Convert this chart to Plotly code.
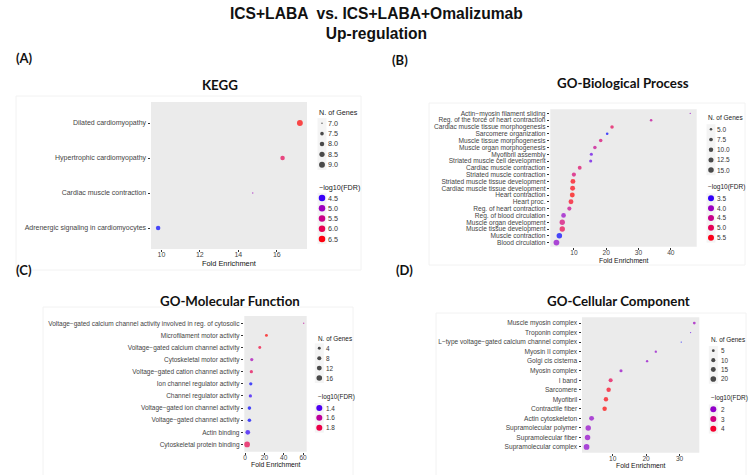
import math
import plotly.graph_objects as go

# ---------------- data ----------------
kegg_terms = ["Dilated cardiomyopathy", "Hypertrophic cardiomyopathy",
              "Cardiac muscle contraction", "Adrenergic signaling in cardiomyocytes"]
kegg_fold = [17.2, 16.3, 14.75, 9.83]
kegg_genes = [9, 8, 7, 8]
kegg_fdr = [6.55, 6.0, 5.0, 4.44]
kegg_size_breaks = [7.0, 7.5, 8.0, 8.5, 9.0]
kegg_color_breaks = [4.5, 5.0, 5.5, 6.0, 6.5]

bp_terms = ["Actin\u2212myosin filament sliding", "Reg. of the force of heart contraction",
            "Cardiac muscle tissue morphogenesis", "Sarcomere organization",
            "Muscle tissue morphogenesis", "Muscle organ morphogenesis", "Myofibril assembly",
            "Striated muscle cell development", "Cardiac muscle contraction",
            "Striated muscle contraction", "Striated muscle tissue development",
            "Cardiac muscle tissue development", "Heart contraction", "Heart proc.",
            "Reg. of heart contraction", "Reg. of blood circulation", "Muscle organ development",
            "Muscle tissue development", "Muscle contraction", "Blood circulation"]
bp_fold = [46.0, 33.9, 21.8, 20.3, 18.3, 16.5, 15.4, 15.2, 11.8, 10.0,
           9.7, 9.6, 9.5, 9.1, 8.6, 6.8, 6.4, 6.4, 5.5, 4.6]
bp_genes = [4, 5, 7, 5, 7, 7, 6, 6, 8, 9, 12, 12, 12, 12, 9, 11, 14, 14, 15, 16]
bp_fdr = [3.95, 4.4, 5.0, 3.45, 4.76, 4.5, 3.65, 3.65, 4.87, 4.75,
          5.55, 5.55, 5.6, 5.5, 4.5, 3.95, 4.7, 5.1, 3.45, 3.9]
bp_size_breaks = [5.0, 7.5, 10.0, 12.5, 15.0]
bp_color_breaks = [3.5, 4.0, 4.5, 5.0, 5.5]

mf_terms = ["Voltage\u2212gated calcium channel activity involved in reg. of cytosolic",
            "Microfilament motor activity", "Voltage\u2212gated calcium channel activity",
            "Cytoskeletal motor activity", "Voltage\u2212gated cation channel activity",
            "Ion channel regulator activity", "Channel regulator activity",
            "Voltage\u2212gated ion channel activity", "Voltage\u2212gated channel activity",
            "Actin binding", "Cytoskeletal protein binding"]
mf_fold = [60.7, 22.1, 15.2, 6.9, 6.5, 5.9, 5.5, 4.5, 4.5, 2.8, 2.1]
mf_genes = [2, 4, 4, 5, 5, 5, 5, 6, 6, 11, 17]
mf_fdr = [1.6, 1.92, 1.84, 1.535, 1.78, 1.37, 1.38, 1.37, 1.37, 1.38, 1.79]
mf_size_breaks = [4, 8, 12, 16]
mf_color_breaks = [1.4, 1.6, 1.8]

cc_terms = ["Muscle myosin complex", "Troponin complex",
            "L\u2212type voltage\u2212gated calcium channel complex", "Myosin II complex",
            "Golgi cis cisterna", "Myosin complex", "I band", "Sarcomere", "Myofibril",
            "Contractile fiber", "Actin cytoskeleton", "Supramolecular polymer",
            "Supramolecular fiber", "Supramolecular complex"]
cc_fold = [34.4, 33.3, 30.5, 22.9, 20.3, 12.5, 9.4, 8.8, 8.0, 7.6, 3.7, 2.7, 2.5, 2.2]
cc_genes = [5, 3, 3, 4, 4, 6, 10, 12, 12, 12, 15, 19, 19, 21]
cc_fdr = [2.15, 1.6, 1.35, 2.0, 2.0, 2.05, 3.6, 4.2, 4.3, 4.35, 2.0, 2.0, 2.0, 1.95]
cc_size_breaks = [5, 10, 15, 20]
cc_color_breaks = [2, 3, 4]

# ---------------- helpers ----------------
W, H = 753, 475


def xd(a, b):
    return [a / W, b / W]


def yd(top, bot):
    return [1 - bot / H, 1 - top / H]


def _lin(c):
    c = c / 255.0
    return c / 12.92 if c <= 0.04045 else ((c + 0.055) / 1.055) ** 2.4


def _gam(c):
    c = max(0.0, c)
    c = 12.92 * c if c <= 0.0031308 else 1.055 * c ** (1 / 2.4) - 0.055
    return max(0, min(255, round(c * 255)))


def rgb2lab(rgb):
    r, g, b = [_lin(v) for v in rgb]
    X = (0.4124 * r + 0.3576 * g + 0.1805 * b) / 0.95047
    Y = (0.2126 * r + 0.7152 * g + 0.0722 * b)
    Z = (0.0193 * r + 0.1192 * g + 0.9505 * b) / 1.08883
    f = lambda t: t ** (1 / 3) if t > 0.008856 else 7.787 * t + 16 / 116
    fx, fy, fz = f(X), f(Y), f(Z)
    return (116 * fy - 16, 500 * (fx - fy), 200 * (fy - fz))


def lab2rgb(lab):
    L, a, b = lab
    fy = (L + 16) / 116
    fx = fy + a / 500
    fz = fy - b / 200
    finv = lambda t: t ** 3 if t ** 3 > 0.008856 else (t - 16 / 116) / 7.787
    X, Y, Z = finv(fx) * 0.95047, finv(fy), finv(fz) * 1.08883
    r = 3.2406 * X - 1.5372 * Y - 0.4986 * Z
    g = -0.9689 * X + 1.8758 * Y + 0.0415 * Z
    bb = 0.0557 * X - 0.2040 * Y + 1.0570 * Z
    return "rgb(%d,%d,%d)" % (_gam(r), _gam(g), _gam(bb))


LOW = rgb2lab((0, 0, 255))
HIGH = rgb2lab((255, 0, 0))


def colmap(v, lo, hi):
    t = (v - lo) / (hi - lo)
    t = max(0.0, min(1.0, t))
    return lab2rgb(tuple(LOW[i] + (HIGH[i] - LOW[i]) * t for i in range(3)))


def sizemap(v, lo, hi, k):
    t = max(0.0, min(1.0, (v - lo) / (hi - lo)))
    return k * (1 + 5 * math.sqrt(t) + 0.5)


GREY = "#444444"
FONT = "Liberation Sans, Arial, sans-serif"
TFONT = "Lato, Open Sans, sans-serif"

panels = [
    dict(terms=kegg_terms, fold=kegg_fold, genes=kegg_genes, fdr=kegg_fdr,
         sb=kegg_size_breaks, cb=kegg_color_breaks,
         px=(151, 307), py=(102, 249), xr=[9.46, 17.57], dtick=2, fs=7.0, lfs=7.2, afs=7.4,
         k=0.9, ck=6.5,
         leg=dict(tx=317, ty=112, r0=123.3, rh=10.35, dx=322, lx=326, cty=187.3, c0=198, ch=10.25),
         title="KEGG", tpos=(220, 85), lab="(A)", lpos=(14, 58),
         xt=263, box=(16, 96, 361, 270)),
    dict(terms=bp_terms, fold=bp_fold, genes=bp_genes, fdr=bp_fdr,
         sb=bp_size_breaks, cb=bp_color_breaks,
         px=(550.3, 696.7), py=(109.3, 246.7), xr=[2.7, 48], dtick=10, fs=6.6, lfs=6.5, afs=6.8,
         k=0.88, ck=6,
         leg=dict(tx=706, ty=117.3, r0=129.3, rh=10.2, dx=711, lx=715.3, cty=187.3, c0=198.3, ch=9.85),
         title="GO-Biological Process", tpos=(623, 83), lab="(B)", lpos=(390, 60),
         xt=260.5, box=(429, 103, 745, 265)),
    dict(terms=mf_terms, fold=mf_fold, genes=mf_genes, fdr=mf_fdr,
         sb=mf_size_breaks, cb=mf_color_breaks,
         px=(244.3, 306.7), py=(316, 451.7), xr=[-0.8, 63.8], dtick=20, fs=6.5, lfs=6.4, afs=6.8,
         k=0.88, ck=6,
         leg=dict(tx=316, ty=338.3, r0=348.3, rh=9.9, dx=319.3, lx=324, cty=397.3, c0=408, ch=9.85),
         title="GO-Molecular Function", tpos=(230, 301), lab="(C)", lpos=(14, 270),
         xt=464.3, box=(43, 307, 353, 476)),
    dict(terms=cc_terms, fold=cc_fold, genes=cc_genes, fdr=cc_fdr,
         sb=cc_size_breaks, cb=cc_color_breaks,
         px=(582, 699.3), py=(317.3, 452.7), xr=[0.84, 35.9], dtick=10, fs=6.6, lfs=6.4, afs=6.8,
         k=0.88, ck=6,
         leg=dict(tx=708.7, ty=339.3, r0=350.7, rh=9.43, dx=713.3, lx=719.3, cty=398.3, c0=409.3, ch=9.7),
         title="GO-Cellular Component", tpos=(618, 301), lab="(D)", lpos=(394, 270),
         xt=465.8, box=(436, 313, 746, 476)),
]

fig = go.Figure()
shapes = []
annotations = []
layout = {}

for i, p in enumerate(panels, start=1):
    sfx = "" if i == 1 else str(i)
    xa, ya = "x" + sfx, "y" + sfx
    n = len(p["terms"])
    lo_c, hi_c = min(p["fdr"]), max(p["fdr"])
    lo_s, hi_s = min(p["genes"]), max(p["genes"])
    bx = p["box"]
    shapes.append(dict(type="rect", xref="paper", yref="paper",
                       x0=bx[0] / W, x1=bx[2] / W, y0=1 - bx[3] / H, y1=1 - bx[1] / H,
                       line=dict(color="#f2f2f2", width=1), fillcolor="rgba(0,0,0,0)", layer="below"))
    shapes.append(dict(type="rect", xref="%s domain" % xa, yref="%s domain" % ya,
                       x0=0, x1=1, y0=0, y1=1, fillcolor="#EBEBEB", line=dict(width=0), layer="below"))
    fig.add_trace(go.Scatter(
        x=p["fold"], y=p["terms"], mode="markers", xaxis=xa, yaxis=ya, showlegend=False,
        marker=dict(size=[sizemap(g, lo_s, hi_s, p["k"]) for g in p["genes"]],
                    color=[colmap(v, lo_c, hi_c) for v in p["fdr"]], line=dict(width=0)),
        cliponaxis=False))
    layout["xaxis" + sfx] = dict(
        domain=xd(*p["px"]), anchor=ya, range=p["xr"], dtick=p["dtick"], showgrid=False,
        zeroline=False, ticks="outside", ticklen=2, tickwidth=0.8, tickcolor="#333",
        ticklabelstandoff=-3,
        tickfont=dict(family=FONT, size=p["fs"], color=GREY), showline=False, fixedrange=True)
    layout["yaxis" + sfx] = dict(
        domain=yd(*p["py"]), anchor=xa, type="category", categoryorder="array",
        categoryarray=list(reversed(p["terms"])), range=[-0.6, n - 0.4], showgrid=False,
        tickmode="linear", tick0=0, dtick=1,
        zeroline=False, ticks="outside", ticklen=2.5, tickwidth=0.8, tickcolor="#333",
        tickfont=dict(family=FONT, size=p["fs"], color=GREY), fixedrange=True)
    cx = (p["px"][0] + p["px"][1]) / 2
    annotations.append(dict(text="Fold Enrichment", x=cx / W, y=1 - p["xt"] / H, xref="paper",
                            yref="paper", showarrow=False, xanchor="center", yanchor="middle",
                            font=dict(family=FONT, size=p["afs"], color="#111")))
    annotations.append(dict(text="<b>%s</b>" % p["title"], x=p["tpos"][0] / W, y=1 - p["tpos"][1] / H,
                            xref="paper", yref="paper", showarrow=False, xanchor="center",
                            yanchor="middle", font=dict(family=TFONT, size=13.3, color="#111")))
    annotations.append(dict(text="<b>%s</b>" % p["lab"], x=p["lpos"][0] / W, y=1 - p["lpos"][1] / H,
                            xref="paper", yref="paper", showarrow=False, xanchor="left",
                            yanchor="middle", font=dict(family=TFONT, size=13, color="#111")))
    L = p["leg"]
    annotations.append(dict(text="N. of Genes", x=L["tx"] / W, y=1 - L["ty"] / H, xref="paper",
                            yref="paper", showarrow=False, xanchor="left", yanchor="middle",
                            font=dict(family=FONT, size=p["lfs"], color="#1a1a1a")))
    annotations.append(dict(text="\u2212log10(FDR)", x=L["tx"] / W, y=1 - L["cty"] / H, xref="paper",
                            yref="paper", showarrow=False, xanchor="left", yanchor="middle",
                            font=dict(family=FONT, size=p["lfs"], color="#1a1a1a")))
    sy = [L["r0"] + j * L["rh"] for j in range(len(p["sb"]))]
    cy = [L["c0"] + j * L["ch"] for j in range(len(p["cb"]))]
    # light legend-key backgrounds
    for ys, hh in ((sy, L["rh"]), (cy, L["ch"])):
        shapes.append(dict(type="rect", xref="paper", yref="paper",
                           x0=(L["dx"] - 4.5) / W, x1=(L["dx"] + 4.5) / W,
                           y0=1 - (ys[-1] + hh / 2) / H, y1=1 - (ys[0] - hh / 2) / H,
                           fillcolor="#F4F4F4", line=dict(width=0), layer="below"))
    fig.add_trace(go.Scatter(
        x=[L["dx"]] * len(p["sb"]), y=sy, mode="markers", xaxis="x5", yaxis="y5", showlegend=False,
        marker=dict(size=[sizemap(v, lo_s, hi_s, p["k"]) for v in p["sb"]], color="black",
                    line=dict(width=0))))
    fig.add_trace(go.Scatter(
        x=[L["dx"]] * len(p["cb"]), y=cy, mode="markers", xaxis="x5", yaxis="y5", showlegend=False,
        marker=dict(size=p["ck"], color=[colmap(v, lo_c, hi_c) for v in p["cb"]],
                    line=dict(width=0))))
    fmt = (lambda v: "%.1f" % v) if any(isinstance(v, float) for v in p["sb"]) else (lambda v: "%d" % v)
    for v, yy in zip(p["sb"], sy):
        annotations.append(dict(text=fmt(v), x=L["lx"] / W, y=1 - yy / H, xref="paper", yref="paper",
                                showarrow=False, xanchor="left", yanchor="middle",
                                font=dict(family=FONT, size=p["lfs"], color="#333")))
    cfmt = (lambda v: "%.1f" % v) if any(isinstance(v, float) for v in p["cb"]) else (lambda v: "%d" % v)
    for v, yy in zip(p["cb"], cy):
        annotations.append(dict(text=cfmt(v), x=L["lx"] / W, y=1 - yy / H, xref="paper", yref="paper",
                                showarrow=False, xanchor="left", yanchor="middle",
                                font=dict(family=FONT, size=p["lfs"], color="#333")))

layout["xaxis5"] = dict(domain=[0, 1], anchor="y5", range=[0, W], visible=False, fixedrange=True)
layout["yaxis5"] = dict(domain=[0, 1], anchor="x5", range=[H, 0], visible=False, fixedrange=True)

annotations.append(dict(text="<b>ICS+LABA  vs. ICS+LABA+Omalizumab</b><br><b>Up-regulation</b>",
                        x=376 / W, y=1 - 23.5 / H, xref="paper", yref="paper", showarrow=False,
                        xanchor="center", yanchor="middle", align="center",
                        font=dict(family=FONT, size=15.6, color="#111")))

fig.update_layout(width=W, height=H, margin=dict(l=0, r=0, t=0, b=0),
                  paper_bgcolor="white", plot_bgcolor="rgba(0,0,0,0)",
                  shapes=shapes, annotations=annotations, showlegend=False, **layout)
fig.write_html("out.html", include_plotlyjs=True, config={"displayModeBar": False},
               post_script="document.body.style.margin='0';document.body.style.overflow='hidden';")
